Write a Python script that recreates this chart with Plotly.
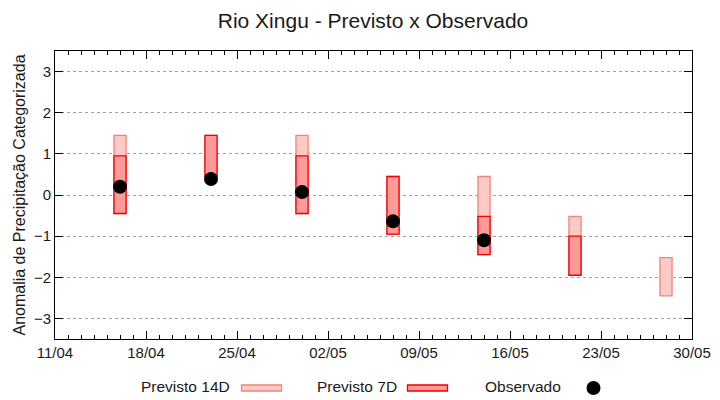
import plotly.graph_objects as go

# ---- data ----
dates = ["2019-04-16", "2019-04-23", "2019-04-30", "2019-05-07",
         "2019-05-14", "2019-05-21", "2019-05-28"]
p14_low = [-0.45, 0.45, -0.45, -0.95, -1.45, -1.95, -2.45]
p14_high = [1.45, 1.45, 1.45, 0.45, 0.45, -0.52, -1.52]
p7_low = [-0.45, 0.45, -0.45, -0.95, -1.45, -1.95, None]
p7_high = [0.95, 1.45, 0.95, 0.45, -0.52, -1.0, None]
obs = [0.2, 0.39, 0.07, -0.64, -1.1, None, None]
x_ticks = ["2019-04-11", "2019-04-18", "2019-04-25", "2019-05-02",
           "2019-05-09", "2019-05-16", "2019-05-23", "2019-05-30"]

FONT = "Liberation Sans, Arial, sans-serif"
TXT = "#1a1a1a"
C14_FILL, C14_LINE = "#fdcbc7", "#f2837a"
C7_FILL, C7_LINE = "#ff9a9a", "#f00000"
DAY_MS = 86400000

fig = go.Figure()

def heights(lo, hi):
    return [None if (a is None or b is None) else b - a for a, b in zip(lo, hi)]

fig.add_trace(go.Bar(
    x=dates, y=heights(p14_low, p14_high), base=p14_low,
    width=0.93 * DAY_MS, name="Previsto 14D",
    marker=dict(color=C14_FILL, line=dict(color=C14_LINE, width=1.3)),
))
fig.add_trace(go.Bar(
    x=dates, y=heights(p7_low, p7_high), base=p7_low,
    width=0.93 * DAY_MS, name="Previsto 7D",
    marker=dict(color=C7_FILL, line=dict(color=C7_LINE, width=1.3)),
))
fig.add_trace(go.Scatter(
    x=dates, y=obs, mode="markers", name="Observado",
    marker=dict(color="black", size=14, line=dict(width=0)),
))

# ---- layout (page has an 8px body margin, so the figure is 712x392) ----
OFF = 8
W, H = 720 - OFF, 400 - OFF
L, T = 55 - OFF, 51 - OFF
R, B = 720 - 692, H - (339 - OFF)
PW, PH = W - L - R, H - T - B

def px(xp):  # page pixel -> paper fraction
    return (xp - OFF - L) / PW

def py(yp):
    return (H - B - (yp - OFF)) / PH

fig.update_layout(
    width=W, height=H,
    margin=dict(l=L, r=R, t=T, b=B, autoexpand=False),
    plot_bgcolor="white", paper_bgcolor="white",
    barmode="overlay", showlegend=False,
    font=dict(family=FONT, size=15, color=TXT),
    title=dict(text="Rio Xingu - Previsto x Observado",
               x=(373 - OFF) / W, xanchor="center",
               y=1 - (21 - OFF) / H, yanchor="middle",
               font=dict(size=21, color=TXT)),
)

fig.update_xaxes(
    type="date", range=[x_ticks[0], x_ticks[-1]],
    tickmode="array", tickvals=x_ticks, tickformat="%d/%m",
    ticks="inside", ticklen=8, tickcolor="black",
    minor=dict(ticks="inside", ticklen=4, dtick=DAY_MS, tick0=x_ticks[0], tickcolor="black"),
    showline=True, linecolor="black", linewidth=1, mirror="allticks",
    showgrid=False, zeroline=False, automargin=False,
    tickfont=dict(size=15, color=TXT),
)
fig.update_yaxes(
    range=[-3.5, 3.5], tickvals=[-3, -2, -1, 0, 1, 2, 3],
    ticks="inside", ticklen=8, tickcolor="black",
    showline=True, linecolor="black", linewidth=1, mirror="allticks",
    showgrid=True, gridcolor="#a0a0a0", griddash="dot", gridwidth=1,
    zeroline=False, automargin=False,
    tickfont=dict(size=15, color=TXT),
    title=dict(text="Anomalia de Precipitação Categorizada", standoff=4,
               font=dict(size=16, color=TXT)),
)

# ---- manual legend (text left of symbol, as in the reference) ----
leg_y = 386
items = [
    ("Previsto 14D", 232, ("rect", 241.5, 281.5, C14_FILL, C14_LINE)),
    ("Previsto 7D", 399, ("rect", 407.5, 447.5, C7_FILL, C7_LINE)),
    ("Observado", 563, ("circle", 586.5, 600.5, "black", "black")),
]
for label, xr, (kind, x0, x1, fill, line) in items:
    fig.add_annotation(text=label, xref="paper", yref="paper",
                       x=px(xr), y=py(leg_y), xanchor="right", yanchor="middle",
                       showarrow=False, font=dict(size=15.5, color=TXT))
    if kind == "rect":
        fig.add_shape(type="rect", xref="paper", yref="paper",
                      x0=px(x0), x1=px(x1), y0=py(391), y1=py(385),
                      fillcolor=fill, line=dict(color=line, width=1.3))
    else:
        fig.add_shape(type="circle", xref="paper", yref="paper",
                      x0=px(x0), x1=px(x1), y0=py(395), y1=py(381),
                      fillcolor=fill, line=dict(color=line, width=0))

fig.write_html("out.html")
